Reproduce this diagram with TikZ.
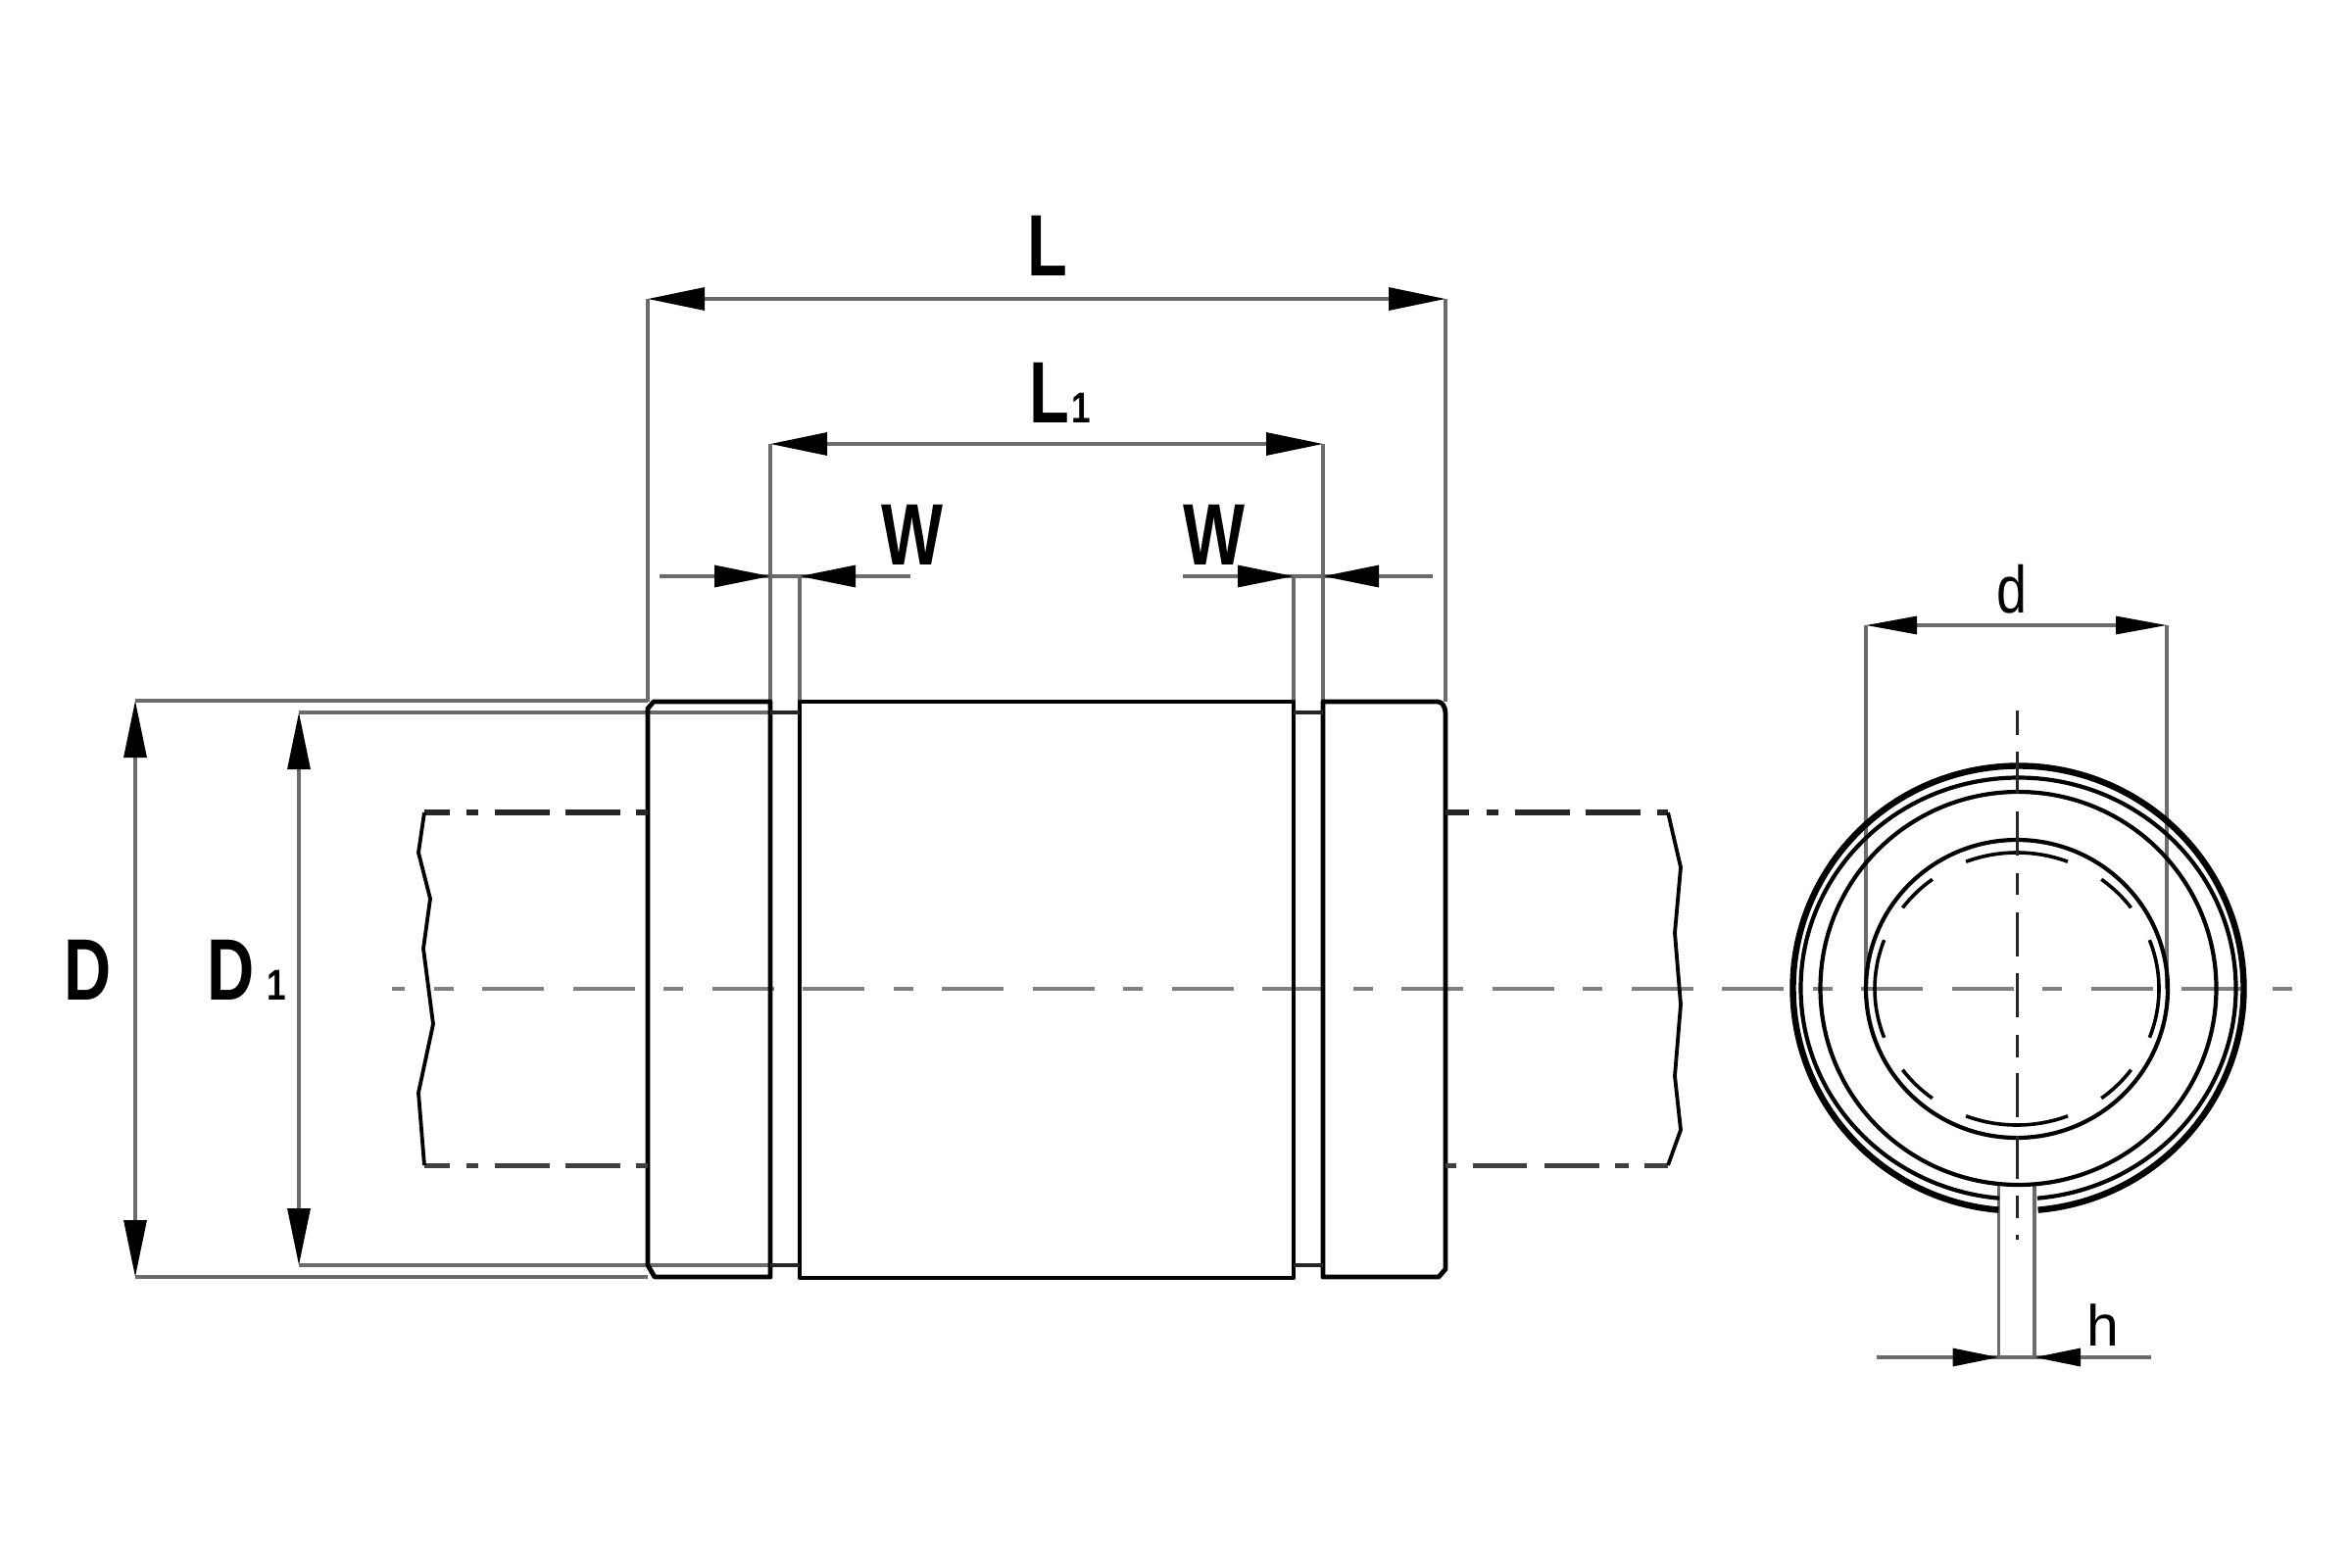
\documentclass[tikz,border=0pt]{standalone}
\usepackage{fontspec}
\usepackage{graphicx}
\setmainfont{Liberation Sans}
\usetikzlibrary{arrows.meta}
\newcommand{\narrow}[1]{\scalebox{.75}[1]{#1}}
\newcommand{\idx}[1]{{\fontsize{44}{44}\selectfont\bfseries\scalebox{.8}[1]{#1}}}
\tikzset{
  outline/.style={draw=black,line width=4.8pt,line join=round},
  thin dim/.style={draw=black!58,line width=3.2pt},
  groove/.style={draw=black!85,line width=3.8pt},
  shaft/.style={draw=black!85,line width=5.6pt},
  shaft low/.style={draw=black!75,line width=5pt},
  brk/.style={draw=black,line width=3.8pt,line join=round},
  axis/.style={draw=black!50,line width=3.6pt,dash pattern=on 20pt off 29.5pt on 63pt off 29.5pt on 63pt off 29.5pt},
  vaxis/.style={draw=black!85,line width=3pt},
  ring/.style={draw=black,line width=4.2pt},
  tall/.style={font=\fontsize{89}{89}\selectfont\bfseries,inner sep=0pt,anchor=base west},
  low/.style={font=\fontsize{68}{68}\selectfont,inner sep=0pt,anchor=base},
}
\begin{document}
\begin{tikzpicture}[x=1pt,y=-1pt]
\useasboundingbox[fill=white] (0,0) rectangle (2400,1600);
% named reference points
\coordinate (Ltl) at (661,305); \coordinate (Ltr) at (1475,305);
\coordinate (Ll) at (661,716);  \coordinate (Lr) at (1475,716);
\coordinate (Mtl) at (786,453); \coordinate (Mtr) at (1350,453);
\coordinate (Ml) at (786,716);  \coordinate (Mr) at (1350,716);
\coordinate (Wl) at (816,588);  \coordinate (Wr) at (1320,588);
\coordinate (Wla) at (786,588); \coordinate (Wra) at (1350,588);
\coordinate (Bl) at (816,716);  \coordinate (Br) at (1320,716);
\coordinate (Dt) at (138,715);  \coordinate (Db) at (138,1303);
\coordinate (Ett) at (305,727); \coordinate (Ebb) at (305,1291);
\coordinate (Dtr) at (661,715); \coordinate (Dbr) at (661,1303);
\coordinate (Etr) at (786,727); \coordinate (Ebr) at (786,1291);
\coordinate (dl) at (1904,638); \coordinate (dr) at (2211,638);
\coordinate (dlc) at (1904,1009); \coordinate (drc) at (2211,1009);
\coordinate (hl) at (2039.5,1385); \coordinate (hr) at (2076,1385);
\coordinate (hlt) at (2039.5,1209); \coordinate (hrt) at (2076,1209);
% axis
\draw[axis,dash phase=192pt] (400,1009) -- (2345,1009);
% extension lines
\draw[thin dim] (Ltl) -- (Ll) (Ltr) -- (Lr) (Mtl) -- (Ml) (Mtr) -- (Mr);
\draw[thin dim] (Wl) -- (Bl) (Wr) -- (Br);
\draw[thin dim] (Dt) -- (Dtr) (Db) -- (Dbr) (Ett) -- (Etr) (Ebb) -- (Ebr);
\draw[thin dim] (dl) -- (dlc) (dr) -- (drc);
\draw[thin dim] (hlt) -- (hl) (hrt) -- (hr);
% dimension lines
\draw[thin dim,{Triangle[length=58pt,width=23pt,black]}-{Triangle[length=58pt,width=23pt,black]}] (Ltl) -- (Ltr);
\draw[thin dim,{Triangle[length=58pt,width=23pt,black]}-{Triangle[length=58pt,width=23pt,black]}] (Mtl) -- (Mtr);
\draw[thin dim,{Triangle[length=58pt,width=23pt,black]}-{Triangle[length=58pt,width=23pt,black]}] (Dt) -- (Db);
\draw[thin dim,{Triangle[length=58pt,width=23pt,black]}-{Triangle[length=58pt,width=23pt,black]}] (Ett) -- (Ebb);
\draw[thin dim,{Triangle[length=52pt,width=18pt,black]}-{Triangle[length=52pt,width=18pt,black]}] (dl) -- (dr);
\draw[thin dim] (673,588) -- (929,588) (1207,588) -- (1462,588) (1915,1385) -- (2195,1385);
\draw[thin dim,-{Triangle[length=57pt,width=22pt,black]}] (673,588) -- (Wla);
\draw[thin dim,-{Triangle[length=57pt,width=22pt,black]}] (929,588) -- (Wl);
\draw[thin dim,-{Triangle[length=57pt,width=22pt,black]}] (1207,588) -- (Wr);
\draw[thin dim,-{Triangle[length=57pt,width=22pt,black]}] (1462,588) -- (Wra);
\draw[thin dim,-{Triangle[length=47pt,width=18pt,black]}] (1915,1385) -- (hl);
\draw[thin dim,-{Triangle[length=47pt,width=18pt,black]}] (2195,1385) -- (hr);
% bearing body
\draw[outline] (667,716) -- (786,716) -- (786,1303) -- (668,1303) -- (661,1291) -- (661,723) -- cycle;
\draw[outline] (1350,716) -- (1467,716) .. controls (1472,716) and (1475,722) .. (1475,728) -- (1475,1295) -- (1468,1303) -- (1350,1303) -- cycle;
\draw[outline] (816,716) rectangle (1320,1304);
\draw[groove] (786,727) -- (816,727) (786,1291) -- (816,1291) (1320,727) -- (1350,727) (1320,1291) -- (1350,1291);
% shaft
\foreach \a/\b in {433/459,476/488,505/561,577/633,649/661,1475/1499,1517/1529,1546/1602,1618/1674,1691/1702}
  \draw[shaft] (\a,829) -- (\b,829);
\foreach \a/\b in {433/459,476/488,505/561,577/633,649/661,1475/1486,1503/1558,1576/1632,1648/1662,1678/1702}
  \draw[shaft low] (\a,1189) -- (\b,1189);
\draw[brk] (433,829) -- (427,870) -- (439,917) -- (432,968) -- (442,1045) -- (427,1115) -- (433,1189);
\draw[brk] (1702,829) -- (1715,885) -- (1709,952) -- (1715,1025) -- (1709,1098) -- (1715,1153) -- (1702,1189);
% end view
\draw[ring,line width=6.4pt] (2059.5,1008.5) ++(-85:230pt and 227pt) arc[start angle=-85,delta angle=350,x radius=230pt,y radius=227pt];
\draw[ring] (2059.5,1008.5) ++(-85:222pt and 215pt) arc[start angle=-85,delta angle=350,x radius=222pt,y radius=215pt];
\draw[ring] (2059.5,1008.5) ellipse[x radius=202pt,y radius=200.5pt];
\draw[ring] (2058,1009) ellipse[x radius=154pt,y radius=152pt];
\foreach \c/\h in {0/21,45/8.5,90/21,135/8.5,180/21,225/8.5,270/21,315/8.5}
  \draw[ring,line width=3.6pt] (2058,1009) ++(\c-\h:145pt and 139pt) arc[start angle=\c-\h,delta angle=2*\h,x radius=145pt,y radius=139pt];
\foreach \a/\b in {725/750,767/810,828/873,891/913,931/976,993/1038,1056/1079,1095/1140,1159/1203,1220/1243,1260/1265}
  \draw[vaxis] (2058,\a) -- (2058,\b);
% labels
\node[tall] (labL) at (1048,281) {\narrow{L}};
\node[tall] (labLo) at (1050,431) {\narrow{L}\hspace{3pt}\idx{1}};
\node[tall] (labWa) at (899,576) {\narrow{W}};
\node[tall] (labWb) at (1207,576) {\narrow{W}};
\node[tall] (labD) at (65,1020) {\narrow{D}};
\node[tall] (labDo) at (211,1020) {\narrow{D}\hspace{13pt}\idx{1}};
\node[low] (labd) at (2053,625) {\scalebox{.82}[1]{d}};
\node[low,font=\fontsize{59}{59}\selectfont] (labh) at (2146,1373) {h};
\end{tikzpicture}
\end{document}
